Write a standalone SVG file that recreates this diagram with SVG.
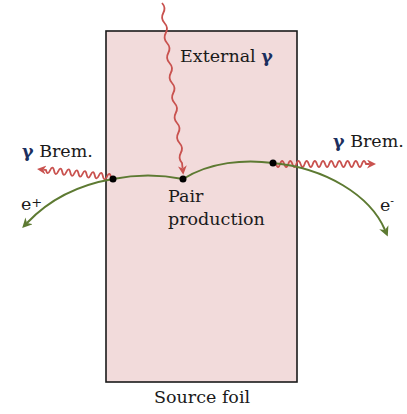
<svg xmlns="http://www.w3.org/2000/svg" width="407" height="414" viewBox="0 0 407 414">
<style>
  text { font-family: "DejaVu Serif", "Liberation Serif", serif; font-size: 17.5px; fill: #1a1a1a; }
  .g { font-weight: bold; fill: #1c2f5e; }
  .photon { fill: none; stroke: #c9524f; stroke-width: 1.8; }
  .lepton { fill: none; stroke: #5d7a32; stroke-width: 2; }
  .dot { fill: #000; }
</style>
<defs>
  <marker id="ahRed" viewBox="0 0 10 10" markerWidth="9" markerHeight="9" refX="3" refY="5" orient="auto" markerUnits="userSpaceOnUse">
    <path d="M0,0 L10,5 L0,10 L3,5 z" fill="#c9524f"/>
  </marker>
  <marker id="ahGreen" viewBox="0 0 10 10" markerWidth="10" markerHeight="10" refX="3" refY="5" orient="auto" markerUnits="userSpaceOnUse">
    <path d="M0,0 L10,5 L0,10 L3,5 z" fill="#5d7a32"/>
  </marker>
</defs>
<rect width="407" height="414" fill="#fff"/>
<g id="foil">
  <rect x="106" y="31" width="191" height="351" fill="#f2dbdb" stroke="#1a1a1a" stroke-width="1.6"/>
  <text x="154" y="403">Source foil</text>
</g>
<g id="connectors">
  <path class="photon" marker-end="url(#ahRed)" d="M162,3 Q166.2,7.55 163.25,13 T164.5,23 T165.75,33 T167,43 T168.25,53 T169.5,63 T170.75,73 T172,83 T173.25,93 T174.5,103 T175.75,113 T177,123 T178.25,133 T179.5,143 T180.75,153 T182,163 L182.6,168.5"/>
  <path class="photon" marker-end="url(#ahRed)" d="M111,177 Q109.6,170.8 106.94,176.56 T102.88,176.13 T98.81,175.69 T94.75,175.25 T90.69,174.81 T86.63,174.38 T82.56,173.94 T78.5,173.5 T74.44,173.06 T70.38,172.63 T66.31,172.19 T62.25,171.75 T58.19,171.31 T54.13,170.88 T50.06,170.44 T46,170 L43.3,169.7"/>
  <path class="photon" marker-end="url(#ahRed)" d="M276,164 Q278.05,170 280.09,164 T284.18,164 T288.27,164 T292.36,164 T296.45,164 T300.55,164 T304.64,164 T308.73,164 T312.82,164 T316.91,164 T321,164 T325.09,164 T329.18,164 T333.27,164 T337.36,164 T341.45,164 T345.55,164 T349.64,164 T353.73,164 T357.82,164 T361.91,164 T366,164 L369.7,164"/>
  <path class="lepton" marker-end="url(#ahGreen)" d="M183,179 Q148,172 113,179 Q60,188 27,223"/>
  <path class="lepton" marker-end="url(#ahGreen)" d="M183,179 C210,162 245,159 273,163 C325,168 370,195 385,230"/>
</g>
<g id="vertex-left"><circle class="dot" cx="113" cy="179" r="3.5"/></g>
<g id="vertex-pair"><circle class="dot" cx="183" cy="179" r="3.5"/></g>
<g id="vertex-right"><circle class="dot" cx="273" cy="163" r="3.5"/></g>
<g id="label-external"><text x="180" y="62">External <tspan class="g">γ</tspan></text></g>
<g id="label-pair"><text x="168" y="202">Pair</text><text x="168" y="225">production</text></g>
<g id="label-brem-left"><text x="22" y="157"><tspan class="g">γ</tspan> Brem.</text></g>
<g id="label-brem-right"><text x="333" y="147"><tspan class="g">γ</tspan> Brem.</text></g>
<g id="label-positron"><text x="21" y="210">e<tspan font-size="13" dy="-3">+</tspan></text></g>
<g id="label-electron"><text x="380" y="211">e<tspan font-size="11" dy="-6">-</tspan></text></g>
</svg>
